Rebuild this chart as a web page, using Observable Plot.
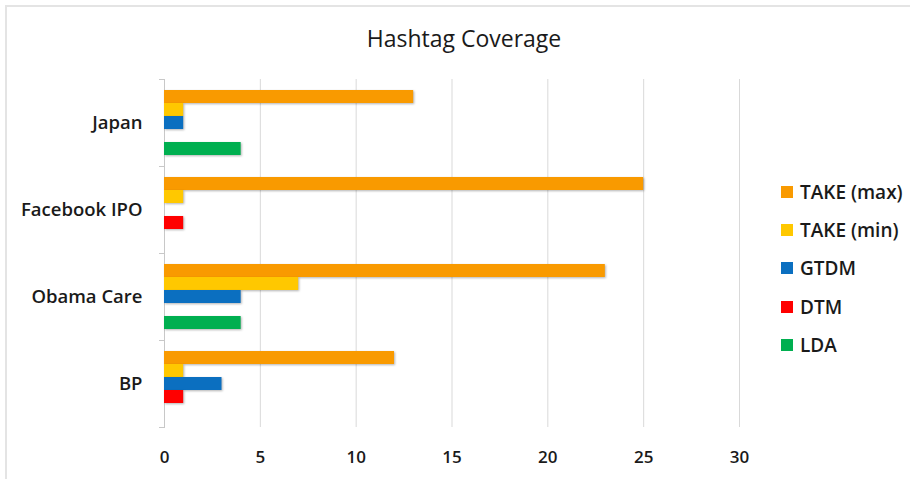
<!DOCTYPE html>
<html>
<head>
<meta charset="utf-8">
<script src="https://cdn.jsdelivr.net/npm/d3@7"></script>
<script src="https://cdn.jsdelivr.net/npm/@observablehq/plot@0.6"></script>
<style>
  html, body { margin: 0; padding: 0; background: #fff; overflow: hidden; }
  #wrap { position: relative; width: 910px; height: 479px; font-family: "Open Sans", Lato, sans-serif; color: #1a1a1a; }
  #box { position: absolute; left: 5px; top: 5px; width: 940px; height: 520px; border-left: 2px solid #e4e4e4; border-top: 2px solid #e4e4e4; }
  #title { position: absolute; left: 0; width: 928px; top: 23px; text-align: center; font-size: 23px; line-height: 30px; font-weight: 500; }
  #chart { position: absolute; left: 0; top: 0; }
  #chart g[aria-label="bar"] rect { filter: drop-shadow(1.5px 1.5px 1.2px rgba(0,0,0,0.3)); }
  #legend { position: absolute; left: 781px; top: 173px; }
  .item { display: flex; align-items: center; height: 38.2px; font-size: 19px; font-weight: 600; white-space: nowrap; }
  .sw { width: 12px; height: 12px; margin-right: 7px; flex: none; }
</style>
</head>
<body>
<div id="wrap">
  <div id="box"></div>
  <div id="title">Hashtag Coverage</div>
  <div id="chart"></div>
  <div id="legend"></div>
</div>
<script>
// Topics (top to bottom) and the methods compared within each topic
const categories = ["Japan", "Facebook IPO", "Obama Care", "BP"];
const seriesNames = ["TAKE (max)", "TAKE (min)", "GTDM", "DTM", "LDA"];
const seriesColors = ["#F99A00", "#FFC800", "#0B6FC0", "#FF0000", "#00AF50"];

// Number of hashtags covered, one value per topic
const takeMax = [13, 25, 23, 12];
const takeMin = [1, 1, 7, 1];
const gtdm = [1, 0, 4, 3];
const dtm = [0, 1, 0, 1];
const lda = [4, 0, 4, 0];

const xTicks = [0, 5, 10, 15, 20, 25, 30];

const seriesValues = [takeMax, takeMin, gtdm, dtm, lda];
const rows = [];
categories.forEach((topic, i) => {
  seriesNames.forEach((method, j) => {
    rows.push({topic, method, value: seriesValues[j][i]});
  });
});

const width = 760, height = 479;
const marginLeft = 164, marginRight = 21, marginTop = 77, marginBottom = 51;
const plotWidth = width - marginLeft - marginRight;

const chart = Plot.plot({
  width, height, marginLeft, marginRight, marginTop, marginBottom,
  style: {fontFamily: "'Open Sans', Lato, sans-serif", color: "#1a1a1a", background: "transparent", fontWeight: 600},
  x: {domain: [0, 30]},
  y: {domain: seriesNames, paddingInner: 0, paddingOuter: 0.66, axis: null},
  fy: {domain: categories, padding: 0},
  color: {domain: seriesNames, range: seriesColors},
  marks: [
    Plot.gridX({ticks: xTicks.filter(d => d > 0), stroke: "#d9d9d9", strokeOpacity: 1}),
    // left axis line and small ticks at the topic boundaries
    Plot.frame({anchor: "left", stroke: "#c8c8c8"}),
    Plot.frame({anchor: "top", stroke: "#c8c8c8", dx: -5, insetRight: plotWidth - 5}),
    Plot.frame({anchor: "bottom", stroke: "#c8c8c8", dx: -5, insetRight: plotWidth - 5}),
    Plot.barX(rows, {fy: "topic", y: "method", x: "value", fill: "method"}),
    Plot.axisFy({anchor: "left", tickSize: 0, tickPadding: 22, fontSize: 18.5, label: null, fill: "#1a1a1a"}),
    Plot.axisX({ticks: xTicks, tickSize: 0, tickPadding: 23, fontSize: 17, label: null, fill: "#1a1a1a", tickFormat: d => String(d)})
  ]
});
document.getElementById("chart").appendChild(chart);

// Legend: one swatch per method
const legend = document.getElementById("legend");
seriesNames.forEach((name, i) => {
  const item = document.createElement("div");
  item.className = "item";
  const sw = document.createElement("span");
  sw.className = "sw";
  sw.style.background = seriesColors[i];
  const label = document.createElement("span");
  label.textContent = name;
  item.appendChild(sw);
  item.appendChild(label);
  legend.appendChild(item);
});
</script>
</body>
</html>
